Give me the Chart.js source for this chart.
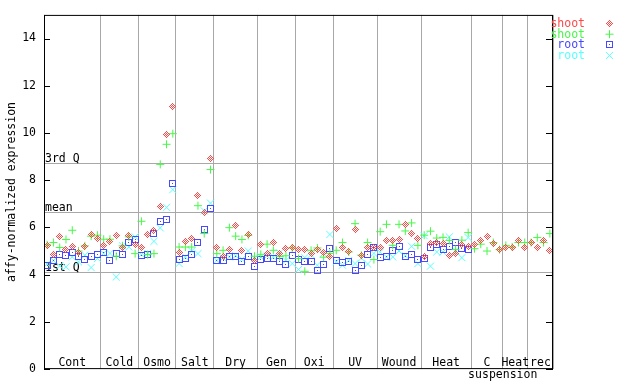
<!DOCTYPE html>
<html>
<head>
<meta charset="utf-8">
<script src="https://cdn.jsdelivr.net/npm/chart.js@4/dist/chart.umd.min.js"></script>
<style>
  html, body { margin: 0; padding: 0; background: #fff; }
  #wrap { width: 640px; height: 384px; position: relative; }
</style>
</head>
<body>
<div id="wrap"><canvas id="exprChart"></canvas></div>
<script>
const seriesNames = ['shoot', 'shoot', 'root', 'root'];
const groupNames = ['Cont', 'Cold', 'Osmo', 'Salt', 'Dry', 'Gen', 'Oxi', 'UV', 'Wound', 'Heat', 'C', 'Heat', 'rec'];
const groupSizes = [9, 6, 6, 6, 7, 6, 6, 7, 7, 8, 5, 4, 4];
const yTicks = [0, 2, 4, 6, 8, 10, 12, 14];
const refLabels = ['3rd Q', 'mean', '1st Q'];
const refValues = [8.71, 6.64, 4.10];

const shootA = [
  5.25, 4.85, 5.6, 5.05, 5.2, 4.95, 5.2, 5.7, 5.55,
  5.22, 5.39, 5.67, 5.17, 5.67, 5.26,
  5.15, 5.71, 5.88, 6.9, 9.94, 11.12,
  4.93, 5.4, 5.53, 7.36, 6.63, 8.91,
  5.15, 4.78, 5.06, 6.09, 5.03, 5.71, 4.58,
  5.29, 4.9, 5.36, 4.9, 5.1, 5.15,
  5.06, 5.06, 4.89, 5.08, 4.93, 4.75,
  5.95, 5.15, 4.96, 5.91, 4.8, 5.15, 5.15,
  5.15, 5.43, 5.46, 5.49, 6.13, 5.74, 5.53,
  4.78, 5.3, 5.35, 5.32, 4.8, 4.89, 5.29, 5.2,
  5.29, 5.46, 5.63, 5.32, 5.06,
  5.17, 5.15, 5.43, 5.17,
  5.36, 5.17, 5.46, 5.03
];
const shootB = [
  5.26, 5.36, 5.15, 5.49, 5.88, 5.0, 5.22, 5.63, 5.67,
  5.5, 5.5, 4.78, 5.22, 5.6, 4.89,
  6.26, 4.85, 4.89, 8.67, 9.52, 9.97,
  5.17, 5.17, 5.17, 6.92, 5.74, 8.45,
  4.89, 5.03, 5.99, 5.63, 5.49, 5.66, 4.78,
  4.86, 5.29, 5.03, 4.77, 4.8, 5.13,
  4.68, 4.14, 5.03, 5.13, 4.74, 4.9,
  5.03, 5.36, 4.96, 6.16, 4.82, 5.36, 4.64,
  5.82, 6.13, 5.24, 6.13, 5.85, 6.19, 5.24,
  5.67, 5.84, 5.55, 5.58, 5.45, 5.06, 5.46, 5.78,
  5.1, 5.29, 5.0, 5.36, 5.06,
  5.24, 5.17, 5.36, 5.36,
  5.36, 5.57, 5.36, 5.74
];
const rootA = [
  4.38, 4.59, 4.86, 4.8, 4.94, 4.78, 4.65, 4.77, 4.86,
  4.92, 4.61, 4.89, 4.86, 5.36, 5.5,
  4.81, 4.86, 5.75, 6.26, 6.33, 7.85,
  4.64, 4.67, 4.86, 5.36, 5.91, 6.81,
  4.58, 4.58, 4.75, 4.75, 4.55, 4.75, 4.36,
  4.64, 4.68, 4.68, 4.55, 4.43, 4.82,
  4.64, 4.55, 4.55, 4.19, 4.44, 5.1,
  4.61, 4.51, 4.55, 4.19, 4.4, 4.86, 5.15,
  4.72, 4.78, 5.03, 5.2, 4.78, 4.86, 4.64,
  4.68, 5.15, 5.27, 5.06, 5.2, 5.36, 5.1, 5.06,
  null, null, null, null, null,
  null, null, null, null,
  null, null, null, null
];
const rootB = [
  4.45, 4.6, 4.37, 4.33, 4.75, 4.54, 4.82, 4.3, 4.68,
  4.9, 4.9, 3.9, 5.22, 5.17, 5.6,
  4.85, 4.9, 5.41, 5.98, 6.85, 7.6,
  4.47, 4.75, 5.0, 4.89, 6.7, 7.03,
  4.6, 4.7, 4.75, 4.8, 4.65, 5.0, 4.7,
  4.75, 4.8, 4.75, 4.92, 4.6, 4.47,
  4.22, 4.72, 4.85, 4.4, 4.9, 5.7,
  4.55, 4.4, 4.6, 4.47, 4.7, 4.45, 4.9,
  4.95, 4.75, 4.75, 5.0, 4.8, 5.2, 4.47,
  5.65, 4.36, 4.96, 4.96, 5.6, 5.0, 4.72, 5.57,
  null, null, null, null, null,
  null, null, null, null,
  null, null, null, null
];

const colors = ['#ff4848', '#48f848', '#4848ff', '#58ffff'];
const monoFont = '"DejaVu Sans Mono", "Liberation Mono", monospace';
const fontSize = 11.5;

// group boundaries on the sample axis
const bounds = [0];
groupSizes.forEach(n => bounds.push(bounds[bounds.length - 1] + n));

function makeDiamond(color) {
    const c = document.createElement('canvas');
    c.width = 7; c.height = 7;
    const g = c.getContext('2d');
    g.fillStyle = color;
    for (let py = 0; py < 7; py++) {
        for (let px = 0; px < 7; px++) {
            const d = Math.abs(px - 3) + Math.abs(py - 3);
            if (d <= 3 && (px + py) % 2 === 1) g.fillRect(px, py, 1, 1);
        }
    }
    return c;
}

function makeSquare(color) {
    const c = document.createElement('canvas');
    c.width = 7; c.height = 7;
    const g = c.getContext('2d');
    g.strokeStyle = color;
    g.fillStyle = color;
    g.lineWidth = 1;
    g.strokeRect(0.5, 0.5, 6, 6);
    g.fillRect(3, 3, 1, 1);
    return c;
}

const pointStyles = [makeDiamond(colors[0]), 'cross', makeSquare(colors[2]), 'crossRot'];
const pointRadii = [3.5, 4, 3.5, 5];

function toPoints(values) {
    return values.map((v, i) => ({ x: i + 0.5, y: v }));
}

const decorations = {
    id: 'decorations',
    beforeDatasetsDraw(chart) {
        const { ctx, chartArea: a, scales: { x, y } } = chart;
        ctx.save();
        ctx.font = fontSize + 'px ' + monoFont;
        ctx.fillStyle = '#000';
        ctx.strokeStyle = '#a8a8a8';
        ctx.lineWidth = 1;
        refValues.forEach((v, k) => {
            const py = Math.round(y.getPixelForValue(v)) + 0.5;
            ctx.beginPath();
            ctx.moveTo(a.left, py);
            ctx.lineTo(a.right, py);
            ctx.stroke();
            ctx.textAlign = 'left';
            ctx.textBaseline = 'alphabetic';
            ctx.fillText(refLabels[k], a.left + 1, py - 1.5);
        });

        ctx.textAlign = 'center';
        ctx.textBaseline = 'alphabetic';
        groupNames.forEach((name, k) => {
            const cx = x.getPixelForValue((bounds[k] + bounds[k + 1]) / 2);
            ctx.fillText(name, cx, a.bottom - 3);
        });
        ctx.fillText('suspension', x.getPixelForValue(bounds[11]), a.bottom + 9);
        ctx.restore();
        ctx.imageSmoothingEnabled = false;
    },
    afterDatasetsDraw(chart) {
        const { ctx, chartArea: a, scales: { y } } = chart;
        ctx.imageSmoothingEnabled = true;
        ctx.save();
        ctx.strokeStyle = '#000';
        ctx.lineWidth = 1;
        ctx.strokeRect(a.left + 0.5, a.top + 0.5, a.right - a.left - 1, a.bottom - a.top - 1);
        ctx.beginPath();
        yTicks.forEach(v => {
            const py = Math.round(y.getPixelForValue(v)) + 0.5;
            ctx.moveTo(a.left, py); ctx.lineTo(a.left + 6, py);
            ctx.moveTo(a.right - 7, py); ctx.lineTo(a.right, py);
        });
        ctx.stroke();

        // legend: name then marker, top right
        ctx.font = fontSize + 'px ' + monoFont;
        ctx.textAlign = 'right';
        ctx.textBaseline = 'alphabetic';
        seriesNames.forEach((name, k) => {
            const by = 27 + k * 10.7;
            ctx.fillStyle = colors[k];
            ctx.fillText(name, 585, by);
            ctx.strokeStyle = colors[k];
            ctx.fillStyle = colors[k];
            ctx.lineWidth = 1;
            ctx.imageSmoothingEnabled = false;
            Chart.helpers.drawPoint(ctx, {
                pointStyle: pointStyles[k], radius: pointRadii[k], borderWidth: 1, rotation: 0
            }, 609.5, by - 3.5);
        });
        ctx.restore();
    }
};

const datasets = [shootA, shootB, rootA, rootB].map((vals, k) => ({
    label: seriesNames[k],
    data: toPoints(vals),
    pointStyle: pointStyles[k],
    pointRadius: pointRadii[k],
    pointBorderColor: colors[k],
    pointBackgroundColor: 'rgba(0,0,0,0)',
    pointBorderWidth: 1,
    showLine: false
}));

Chart.defaults.font.family = monoFont;
Chart.defaults.font.size = fontSize;
Chart.defaults.color = '#000';

new Chart(document.getElementById('exprChart'), {
    type: 'scatter',
    data: { datasets: datasets },
    options: {
        responsive: true,
        maintainAspectRatio: false,
        animation: false,
        events: [],
        layout: { padding: { left: 0, right: 87, top: 13, bottom: 0 } },
        plugins: { legend: { display: false }, tooltip: { enabled: false } },
        scales: {
            x: {
                type: 'linear',
                min: 0,
                max: bounds[bounds.length - 1],
                afterBuildTicks: s => { s.ticks = bounds.map(v => ({ value: v })); },
                afterFit: s => { s.height = 14; },
                ticks: { display: false },
                grid: { color: '#a8a8a8', lineWidth: 1, drawTicks: false },
                border: { display: false }
            },
            y: {
                type: 'linear',
                min: 0,
                max: 15,
                afterBuildTicks: s => { s.ticks = yTicks.map(v => ({ value: v })); },
                afterFit: s => { s.width = 44; },
                ticks: { padding: 8 },
                grid: { display: false, drawTicks: false },
                border: { display: false },
                title: {
                    display: true,
                    text: 'affy-normalized expression',
                    padding: { top: 5, bottom: 0 }
                }
            }
        }
    },
    plugins: [decorations]
});
</script>
</body>
</html>
